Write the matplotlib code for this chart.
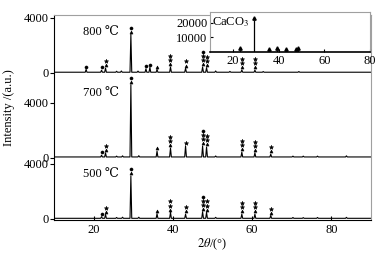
import matplotlib
matplotlib.use("Agg")
import matplotlib.pyplot as plt

# peak positions (2theta, deg), heights (counts) and phase marks
pos_500 = [22.0, 23.0, 25.8, 27.3, 29.4, 31.4, 36.0, 39.4, 43.2, 47.5, 48.5,
           50.8, 57.4, 60.7, 64.7, 70.3, 72.9, 76.5, 83.8]
hts_500 = [120, 280, 60, 80, 3080, 80, 330, 430, 300, 480, 430,
           70, 300, 300, 200, 60, 50, 60, 70]
mk_500 = ['o', '^*', '', '', '^o', '', '^', '^**', '^*', '^**o', '^**',
          '', '^**', '^**', '^*', '', '', '', '']

pos_700 = [22.0, 23.0, 25.8, 27.3, 29.4, 31.4, 36.0, 39.4, 43.2, 47.5, 48.5,
           50.8, 57.4, 60.7, 64.7, 70.3, 72.9, 76.5, 83.8]
hts_700 = [130, 300, 60, 80, 5250, 90, 420, 650, 800, 800, 720,
           70, 350, 300, 200, 60, 60, 60, 80]
mk_700 = ['o', '^*', '', '', '^o', '', '^', '^**', '*', '^**o', '^**',
          '', '^**', '^**', '^*', '', '', '', '']

pos_800 = [18.1, 22.0, 23.0, 25.8, 27.0, 29.4, 31.2, 33.2, 34.2, 36.0, 39.4,
           43.2, 47.5, 48.5, 50.8, 54.4, 57.4, 60.7, 62.8, 71.8]
hts_800 = [200, 150, 300, 70, 90, 2750, 80, 250, 350, 200, 380,
           280, 380, 330, 90, 60, 160, 150, 50, 50]
mk_800 = ['o', 'o', '^*', '', '', '^o', '', 'o', 'o', '^', '^**',
          '^*', '^**o', '^**', '', '', '^**', '^**', '', '']

# CaCO3 reference pattern (inset)
pos_ref = [23.0, 29.4, 36.0, 39.4, 43.2, 47.5, 48.5]
hts_ref = [1500, 22000, 700, 1200, 1000, 1000, 1100]

offsets = {'500': 0, '700': 4460, '800': 10620}
labels = {'500': (17.3, 3270), '700': (17.3, 9160), '800': (17.3, 13600)}
temps = [('500', pos_500, hts_500, mk_500),
         ('700', pos_700, hts_700, mk_700),
         ('800', pos_800, hts_800, mk_800)]

plt.rcParams['font.family'] = ['Liberation Serif', 'DejaVu Serif', 'Noto Sans CJK SC']
plt.rcParams['mathtext.fontset'] = 'stix'
plt.rcParams['font.size'] = 9

fig = plt.figure(figsize=(3.91, 2.57), dpi=100)
ax = fig.add_axes([54 / 391, 37 / 257, 317 / 391, 205 / 257])

base = 50
w = 0.22
yt, ytl = [], []
for name, pos, hts, mks in temps:
    off = offsets[name]
    xs, ys = [10], [off + base]
    for p, h in sorted(zip(pos, hts)):
        xs += [p - w, p, p + w]
        ys += [off + base, off + base + h, off + base]
    xs.append(90)
    ys.append(off + base)
    ax.plot(xs, ys, color='black', lw=0.8)
    for p, h, m in zip(pos, hts, mks):
        for i, s in enumerate(m):
            ax.plot(p, off + base + h + 200 + i * 300, marker=s, color='black',
                    ms=3.2 if s == '*' else 2.2, mec='black', mew=0.4, ls='none')
    lx, ly = labels[name]
    ax.text(lx, ly, name + ' ℃', ha='left', va='center', fontsize=9)
    yt += [off, off + 4000]
    ytl += ['0', '4000']

ax.set_xlim(10, 90)
ax.set_ylim(-73, 14830)
ax.set_yticks(yt)
ax.set_yticklabels(ytl)
ax.set_xticks([20, 40, 60, 80])
ax.tick_params(axis='y', direction='out', length=3, pad=1)
ax.tick_params(axis='x', direction='in', length=3, pad=3)
for s in ['top', 'right']:
    ax.spines[s].set_color('#a0a0a0')
ax.set_ylabel('Intensity /(a.u.)')
ax.yaxis.set_label_coords(-0.123, 0.546)
ax.set_xlabel(r'$2\theta$/(°)', labelpad=0)

# inset
ins = fig.add_axes([210 / 391, 205 / 257, 160 / 391, 40 / 257])
ins.vlines(pos_ref, 0, hts_ref, color='black', lw=0.9)
ins.plot(pos_ref, [h + 1300 for h in hts_ref], marker='^', ms=2.4,
         color='black', ls='none')
ins.set_xlim(10, 80)
ins.set_ylim(0, 27400)
ins.set_xticks([20, 40, 60, 80])
ins.set_yticks([10000, 20000])
ins.tick_params(direction='in', length=2, pad=2)
ins.tick_params(axis='y', pad=2)
for s in ['top', 'right', 'left']:
    ins.spines[s].set_color('#a0a0a0')
ins.spines['bottom'].set_linewidth(1.2)
ins.text(11, 25000, r'CaCO$_3$', ha='left', va='top', fontsize=9)

fig.savefig('out.png', dpi=100)
